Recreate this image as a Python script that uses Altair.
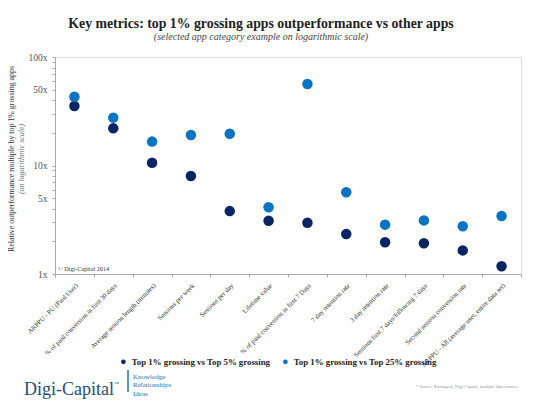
import altair as alt
import pandas as pd

categories = [
    "ARPPU - PU (Paid User)",
    "% of paid conversion in first 30 days",
    "Average session length (minutes)",
    "Sessions per week",
    "Sessions per day",
    "Lifetime value",
    "% of paid conversion in first 7 Days",
    "7 day retention rate",
    "3 day retention rate",
    "Sessions first 7 days/following 7 days",
    "Second session conversion rate",
    "ARPPU - All (average user, entire data set)",
]
series_names = ["Top 1% grossing vs Top 5% grossing", "Top 1% grossing vs Top 25% grossing"]
top5 = [35.3, 22.0, 10.6, 8.0, 3.8, 3.1, 2.97, 2.34, 1.96, 1.92, 1.65, 1.18]
top25 = [43.0, 27.6, 16.6, 19.1, 19.6, 4.12, 56.4, 5.66, 2.85, 3.12, 2.75, 3.42]
y_ticks = [1, 2, 3, 4, 5, 6, 7, 8, 9, 10, 20, 30, 40, 50, 60, 70, 80, 90, 100]
y_labels = [1, 5, 10, 50, 100]

rows = []
for c, a, b in zip(categories, top5, top25):
    rows.append({"metric": c, "series": series_names[0], "value": a})
    rows.append({"metric": c, "series": series_names[1], "value": b})
df = pd.DataFrame(rows)

SERIF = "Liberation Serif"
W, H = 466, 217

points = alt.Chart(df).mark_circle(size=110, opacity=1).encode(
    x=alt.X("metric:N", sort=categories,
            scale=alt.Scale(type="band", paddingInner=0, paddingOuter=0),
            axis=alt.Axis(title=None, labelAngle=-45, labelAlign="right", labelBaseline="top",
                          labelFont=SERIF, labelFontSize=6.7, labelColor="#333",
                          labelPadding=5, tickBand="extent", tickSize=3,
                          tickColor="#aaa", domainColor="#aaa", labelLimit=200)),
    y=alt.Y("value:Q",
            scale=alt.Scale(type="log", domain=[1, 100], nice=False),
            axis=alt.Axis(title=None, values=y_ticks, tickSize=3, tickColor="#aaa",
                          domainColor="#aaa", grid=False, labelFont=SERIF, labelFontSize=9.5,
                          labelColor="#555", labelPadding=5,
                          labelExpr="indexof([1,5,10,50,100], datum.value) >= 0 ? datum.value + 'x' : ''")),
    color=alt.Color("series:N", sort=series_names,
                    scale=alt.Scale(domain=series_names, range=["#0b2463", "#0a74c4"]),
                    legend=alt.Legend(title=None, orient="none", direction="horizontal",
                                      legendX=64, legendY=300, symbolType="circle",
                                      symbolSize=22, labelFont=SERIF, labelFontSize=8.8,
                                      labelFontWeight="bold", labelColor="#222",
                                      symbolOffset=0, labelLimit=300)),
)


def txt(s, x, y, size, color="#333", weight="normal", style="normal", align="left",
        angle=0, font=SERIF, baseline="alphabetic"):
    return alt.Chart(pd.DataFrame({"t": [s]})).mark_text(
        font=font, fontSize=size, color=color, fontWeight=weight, fontStyle=style,
        align=align, angle=angle, baseline=baseline,
    ).encode(x=alt.value(x), y=alt.value(y), text="t:N")


title = txt("Key metrics: top 1% grossing apps outperformance vs other apps", 206, -29, 13.8,
            color="#222", weight="bold", align="center")
subtitle = txt("(selected app category example on logarithmic scale)", 206, -17, 10,
               color="#444", style="italic", align="center")
ytitle1 = txt("Relative outperformance multiple by top 1% grossing apps", -43, 102, 7.9,
              color="#333", align="center", angle=270, baseline="middle")
ytitle2 = txt("(on logarithmic scale)", -33, 102, 7.9, color="#777", style="italic",
              align="center", angle=270, baseline="middle")
copyright_t = txt("© Digi-Capital 2014", 3, 214, 6.2, color="#333")
logo = txt("Digi-Capital", -31, 338, 18, color="#1f4e7a")
tm = txt("™", 59, 328, 5, color="#1f4e7a")
bar = alt.Chart(pd.DataFrame({"a": [0]})).mark_rule(color="#2f6fa8", strokeWidth=1.5).encode(
    x=alt.value(73), y=alt.value(313), y2=alt.value(335))
k1 = txt("Knowledge", 78, 322, 7, color="#2f6fa8")
k2 = txt("Relationships", 78, 330, 7, color="#2f6fa8")
k3 = txt("Ideas", 78, 339, 7, color="#2f6fa8")
source = txt("* Source: Kontagent, Digi-Capital, multiple data sources", 463, 331, 4.5,
             color="#999", align="right")

chart = alt.layer(
    points, title, subtitle, ytitle1, ytitle2, copyright_t, logo, tm, bar, k1, k2, k3, source
).properties(
    width=W, height=H,
    autosize=alt.AutoSizeParams(type="none"),
    padding={"left": 47, "top": 49, "right": 17, "bottom": 128},
).configure_view(stroke=None).configure(background="white")

chart.save("out.html", embed_options={"renderer": "svg", "actions": False})
